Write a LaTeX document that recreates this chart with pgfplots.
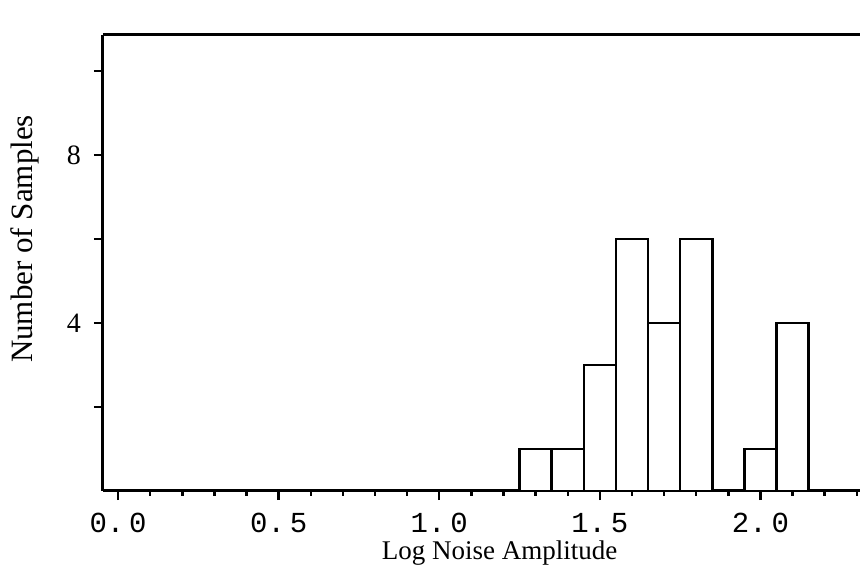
\documentclass[border=0pt]{standalone}
\usepackage{pgfplots}
\pgfplotsset{compat=1.18}
\usepackage{fontspec}
\setmainfont{Liberation Serif}
\setmonofont{Liberation Mono}
\begin{document}
\begin{tikzpicture}
\begin{axis}[
  scale only axis,
  anchor=south west, at={(0,0)},
  width=378.5pt, height=228pt,
  xmin=-0.047, xmax=2.31,
  ymin=0, ymax=10.86,
  axis x line*=bottom, axis y line*=left,
  axis line style={line width=1.5pt, -},
  xtick={0,0.5,1.0,1.5,2.0},
  xticklabels={0.\,0,0.\,5,1.\,0,1.\,5,2.\,0},
  minor xtick={0.1,0.2,0.3,0.4,0.6,0.7,0.8,0.9,1.1,1.2,1.3,1.4,1.6,1.7,1.8,1.9,2.1,2.2,2.3},
  ytick={2,4,6,8,10},
  yticklabels={,4,,8,},
  tick align=outside,
  major tick length=4.5pt, minor tick length=2.5pt,
  every tick/.style={line width=1.2pt, black},
  x tick label style={font=\ttfamily\fontsize{14.5}{16}\selectfont, yshift=-3pt},
  y tick label style={font=\fontsize{14}{16}\selectfont, xshift=-3pt},
  xlabel={Log Noise Amplitude},
  ylabel={Number of Samples},
  xlabel style={font=\fontsize{13.5}{16}\selectfont, xshift=9pt, yshift=3pt},
  ylabel style={font=\fontsize{15.5}{16}\selectfont, xshift=12pt, yshift=7pt},
  clip=false,
]
\addplot[ybar interval, fill=white, draw=black, line width=1.3pt] coordinates {
  (1.25,1) (1.35,1) (1.45,3) (1.55,6) (1.65,4) (1.75,6) (1.85,0) (1.95,1) (2.05,4) (2.15,0)
};
\draw[line width=1.5pt] (rel axis cs:0,1) -- (rel axis cs:1,1);
\end{axis}
\pgfresetboundingbox
\path (-51.5pt,-45.5pt) rectangle (378.5pt,245.5pt);
\end{tikzpicture}
\end{document}
